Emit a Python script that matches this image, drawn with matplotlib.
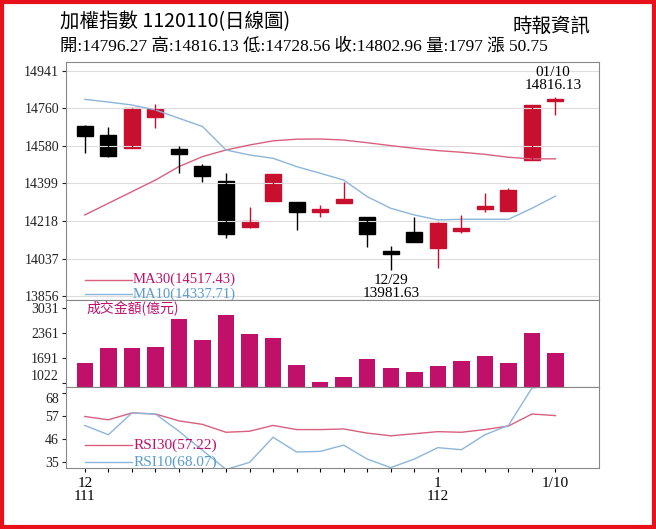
import matplotlib
matplotlib.use("Agg")
import matplotlib.pyplot as plt
from matplotlib.patches import Rectangle

plt.rcParams['font.family'] = ['Noto Sans CJK TC', 'DejaVu Sans']

opens  = [14677,14632,14568,14718,14563,14483,14411,14187,14316,14309,14261,14303,14239,14073,14165,14086,14170,14276,14268,14512,14796.27]
closes = [14628,14530,14761,14758,14539,14435,14154,14219,14445,14261,14274,14322,14155,14060,14117,14207,14182,14292,14367,14777,14802.96]
highs  = [14680,14673,14761,14782,14579,14493,14451,14284,14445,14309,14295,14407,14239,14097,14239,14211,14247,14351,14375,14777,14816.13]
lows   = [14547,14525,14568,14668,14451,14407,14137,14182,14316,14174,14239,14303,14094,13981.63,14117,13990,14158,14263,14268,14512,14728.56]
ma10 = [14804,14791,14777,14753,14713,14673,14560,14536,14520,14480,14448,14415,14335,14279,14247,14223,14226,14226,14226,14279,14337.71]
ma30 = [14247,14303,14359,14415,14480,14528,14560,14584,14604,14612,14613,14608,14595,14581,14568,14557,14549,14539,14525,14517,14517.43]
volume = [1559,1969,1969,1998,2753,2179,2850,2351,2236,1501,1042,1186,1662,1415,1318,1490,1625,1760,1567,2371,1826]
rsi30 = [56.8,55.2,58.5,58,54.7,53,49.2,49.7,52.5,50.5,50.5,50.8,48.8,47.5,48.5,49.5,49.2,50.5,52.2,58,57.22]
rsi10 = [52.5,48,58.5,58,49.7,40.5,31.3,34.7,46.8,39.7,40,43,36.3,32.2,36.3,41.8,40.8,48,52.5,70.5,71.8]
price_ticks = [13856,14037,14218,14399,14580,14760,14941]
vol_ticks = [1022,1691,2361,3031]
rsi_ticks = [35,46,57,68]

RED = '#c8102e'; MAG = '#c0106a'; PINK = '#d8607f'; BLUE = '#8cb6da'
W, H = 656, 529
fig = plt.figure(figsize=(W/100, H/100), dpi=100)
L, R = 66/W, 599/W
def fy(y): return 1 - y/H
axp = fig.add_axes([L, fy(300), R-L, fy(62)-fy(300)])
axv = fig.add_axes([L, fy(387), R-L, fy(300)-fy(387)])
axr = fig.add_axes([L, fy(468), R-L, fy(387)-fy(468)])
n = len(opens); xs = list(range(n))
for ax in (axp, axv, axr):
    ax.set_xlim(-0.8, 21.85)
    for s in ax.spines.values():
        s.set_color('#888888'); s.set_linewidth(0.8)
    ax.tick_params(axis='y', labelsize=10, length=3, colors='#222222', pad=2)
    ax.set_xticks(xs); ax.tick_params(axis='x', length=3, labelbottom=False)

# price
axp.set_ylim(13837, 14984)
axp.set_yticks(price_ticks)
axp.set_yticklabels([str(t) for t in price_ticks], family='Liberation Serif')
axp.grid(axis='y', color='#dddddd', lw=0.8)
axp.plot(xs, ma30, color=PINK, lw=1)
axp.plot(xs, ma10, color=BLUE, lw=1)
for i in xs:
    c = RED if closes[i] >= opens[i] else 'black'
    axp.vlines(i, lows[i], highs[i], color=c, lw=1)
    lo, hi = min(opens[i], closes[i]), max(opens[i], closes[i])
    axp.add_patch(Rectangle((i-0.34, lo), 0.68, max(hi-lo, 8), color=c))
sf = dict(family='Liberation Serif', fontsize=11)
axp.text(13, 13960, '12/29\n13981.63', ha='center', va='top', linespacing=1.0, **sf)
axp.text(19.9, 14840, '01/10\n14816.13', ha='center', va='bottom', linespacing=1.0, **sf)
axp.plot([0, 2], [13935, 13935], color=PINK, lw=1)
axp.plot([0, 2], [13866, 13866], color=BLUE, lw=1)
axp.text(2.05, 13935, 'MA30(14517.43)', color=MAG, va='center', family='Liberation Serif', fontsize=10.5)
axp.text(2.05, 13866, 'MA10(14337.71)', color='#5b9bd0', va='center', family='Liberation Serif', fontsize=10.5)

# volume
axv.set_ylim(916, 3260)
axv.set_yticks(vol_ticks)
axv.set_yticklabels([str(t) for t in vol_ticks], family='Liberation Serif')
axv.get_yticklabels()[0].set_va('bottom')
axv.bar(xs, [v-916 for v in volume], bottom=916, width=0.7, color=MAG)
axv.text(0.05, 3020, '成交金額(億元)', color=MAG, fontsize=10, va='center')

# rsi
axr.set_ylim(32, 71)
axr.set_yticks(rsi_ticks)
axr.set_yticklabels([str(t) for t in rsi_ticks], family='Liberation Serif')
axr.get_yticklabels()[-1].set_va('top')
axr.plot(xs, rsi30, color=PINK, lw=1)
axr.plot(xs, rsi10, color=BLUE, lw=1)
axr.plot([0, 2], [43, 43], color=PINK, lw=1)
axr.plot([0, 2], [35, 35], color=BLUE, lw=1)
axr.text(2.05, 43, 'RSI30(57.22)', color=MAG, va='center', **sf)
axr.text(2.05, 35, 'RSI10(68.07)', color='#5b9bd0', va='center', **sf)
axr.tick_params(axis='x', labelbottom=True, labelsize=11)
axr.set_xticklabels(['12\n111' if i == 0 else '1\n112' if i == 15 else '1/10' if i == 20 else '' for i in xs],
                    family='Liberation Serif', linespacing=1.0)

fig.text(60/W, fy(22), '加權指數 1120110(日線圖)', fontsize=14, va='center')
fig.text(512/W, fy(26), '時報資訊', fontsize=14, va='center')
fig.text(60/W, fy(46), '開:14796.27 高:14816.13 低:14728.56 收:14802.96 量:1797 漲 50.75',
         fontsize=12.5, va='center', family=['Liberation Serif', 'Noto Sans CJK TC'])
fig.patches.append(Rectangle((0.003, 0.004), 0.994, 0.992, transform=fig.transFigure,
                             fill=False, edgecolor='#e8101a', lw=3))
fig.savefig('out.png', dpi=100)
